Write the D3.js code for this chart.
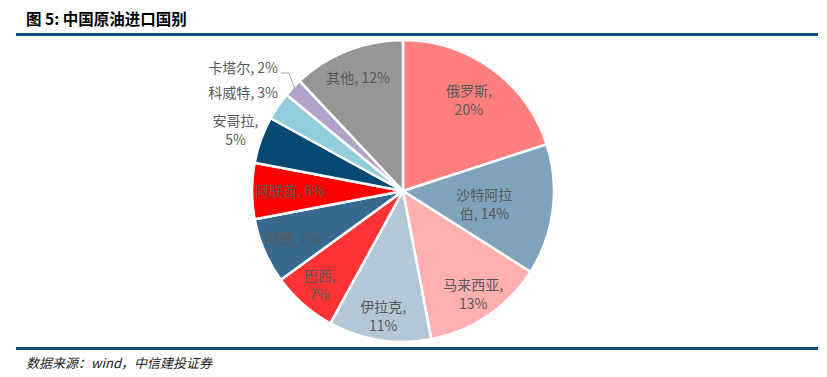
<!DOCTYPE html>
<html>
<head>
<meta charset="utf-8">
<script src="https://cdn.jsdelivr.net/npm/d3@7"></script>
<style>
  body { margin: 0; background: #fff; }
  svg { display: block; }
</style>
</head>
<body>
<svg id="chart" width="827" height="377"></svg>
<script>
// data
var countries = ["俄罗斯", "沙特阿拉伯", "马来西亚", "伊拉克", "巴西", "阿曼", "阿联酋", "安哥拉", "科威特", "卡塔尔", "其他"];
var shares = [20, 14, 13, 11, 7, 7, 6, 5, 3, 2, 12];
var colors = ["#FF7F7F", "#7FA3BB", "#FFAFB0", "#B4C7D6", "#FF3333", "#376A8E", "#FF0000", "#064A74", "#92CDDC", "#B3A2C7", "#969696"];
// how each label wraps in the picture
var labelLines = [
	["俄罗斯,", "20%"],
	["沙特阿拉", "伯, 14%"],
	["马来西亚,", "13%"],
	["伊拉克,", "11%"],
	["巴西,", "7%"],
	["阿曼, 7%"],
	["阿联酋, 6%"],
	["安哥拉,", "5%"],
	["科威特, 3%"],
	["卡塔尔, 2%"],
	["其他, 12%"]
];

var svg = d3.select("#chart");
var cx = 403, cy = 191, R = 151;

// title + rules
svg.append("text")
	.attr("x", 26).attr("y", 25)
	.attr("font-family", "'Noto Sans CJK SC', sans-serif")
	.attr("font-weight", "bold")
	.attr("font-size", 15.5)
	.attr("fill", "#000")
	.text("图 5:  中国原油进口国别");

svg.append("rect").attr("x", 16).attr("y", 33).attr("width", 802).attr("height", 3).attr("fill", "#0B4F7C");
svg.append("rect").attr("x", 16).attr("y", 347).attr("width", 802).attr("height", 3).attr("fill", "#0B4F7C");

svg.append("text")
	.attr("x", 26).attr("y", 368)
	.attr("font-family", "'Noto Sans CJK SC', sans-serif")
	.attr("font-style", "italic")
	.attr("font-size", 13)
	.attr("fill", "#222")
	.text("数据来源：wind，中信建投证券");

// pie
var pie = d3.pie().sort(null).value(function(d) { return d; });
var arcs = pie(shares);
var arc = d3.arc().innerRadius(0).outerRadius(R);

var g = svg.append("g").attr("transform", "translate(" + cx + "," + cy + ")");

g.selectAll("path.slice")
	.data(arcs)
	.enter().append("path")
	.attr("class", "slice")
	.attr("d", arc)
	.attr("fill", function(d, i) { return colors[i]; })
	.attr("stroke", "#fff")
	.attr("stroke-width", 2.5)
	.attr("stroke-linejoin", "round");

// label placement: radius along the slice middle, plus small nudges
var labelLayout = [
	{ r: 112, dx: 0, dy: 0 },
	{ r: 80, dx: 2, dy: 3 },
	{ r: 125, dx: 0, dy: 0 },
	{ r: 127, dx: 0, dy: 0 },
	{ r: 126, dx: 0, dy: 0 },
	{ r: 120, dx: 0, dy: 0 },
	{ r: 113, dx: 0, dy: 0 },
	{ r: 178, dx: 0, dy: 0 },
	{ outside: true, x: -160, y: -98 },
	{ outside: true, x: -160, y: -123 },
	{ r: 122, dx: 0, dy: 0 }
];

var labels = g.selectAll("text.lbl")
	.data(arcs)
	.enter().append("text")
	.attr("class", "lbl")
	.attr("font-family", "'Noto Sans CJK SC', sans-serif")
	.attr("font-size", 14)
	.attr("fill", "#595959")
	.attr("text-anchor", "middle")
	.attr("transform", function(d, i) {
		var L = labelLayout[i];
		var lines = labelLines[i].length;
		var x, y;
		if (L.outside) {
			x = L.x; y = L.y;
		} else {
			var p = d3.arc().innerRadius(L.r).outerRadius(L.r).centroid(d);
			x = p[0] + L.dx; y = p[1] + L.dy;
		}
		return "translate(" + x + "," + (y - (lines - 1) * 9.5 + 5) + ")";
	});

labels.each(function(d, i) {
	var t = d3.select(this);
	labelLines[i].forEach(function(s, k) {
		t.append("tspan").attr("x", 0).attr("dy", k === 0 ? 0 : 19).text(s);
	});
});

// leader line for the small qatar slice
var q = arcs[9];
var qEdge = d3.arc().innerRadius(R - 3).outerRadius(R - 3).centroid(q);
g.append("polyline")
	.attr("points", [[-122, -118], [-114, -118], qEdge].map(function(p) { return p.join(","); }).join(" "))
	.attr("fill", "none")
	.attr("stroke", "#A6A6A6")
	.attr("stroke-width", 1);
</script>
</body>
</html>
